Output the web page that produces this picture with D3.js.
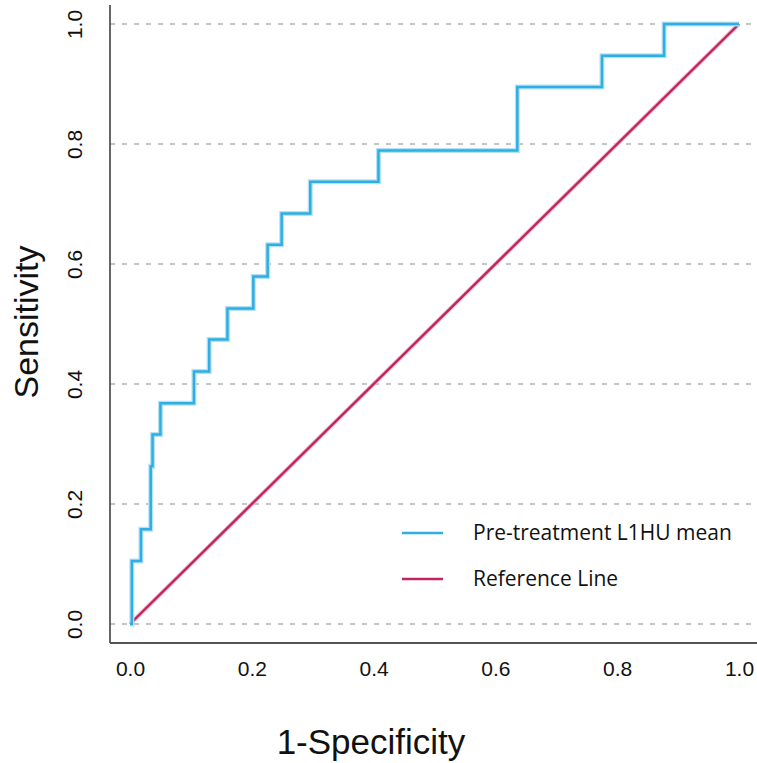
<!DOCTYPE html>
<html>
<head>
<meta charset="utf-8">
<script src="https://cdn.jsdelivr.net/npm/d3@7"></script>
<style>
  body { margin: 0; background: #fff; }
  svg { display: block; }
</style>
</head>
<body>
<div class="chart"></div>
<script>
// ROC curve points (1-specificity, sensitivity)
var fpr = [0, 0.003, 0.018, 0.034, 0.037, 0.050, 0.105, 0.130, 0.160, 0.2025, 0.226, 0.249, 0.296, 0.408, 0.636, 0.775, 0.877, 1.0];
var tpr = [0, 0.105, 0.158, 0.263, 0.316, 0.368, 0.421, 0.474, 0.526, 0.579, 0.632, 0.684, 0.737, 0.789, 0.895, 0.947, 1.0, 1.0];

// diagonal reference line
var refX = [0, 1];
var refY = [0, 1];

var xTicks = [0, 0.2, 0.4, 0.6, 0.8, 1.0];
var yTicks = [0, 0.2, 0.4, 0.6, 0.8, 1.0];

var legendLabels = ['Pre-treatment L1HU mean', 'Reference Line'];

var width = 757, height = 763;
var axisLeftX = 110, axisBottomY = 643;

var svg = d3.select('.chart').append('svg')
  .attr('width', width)
  .attr('height', height);

var x = d3.scaleLinear().domain([0, 1]).range([130, 739]);
var y = d3.scaleLinear().domain([0, 1]).range([624, 24]);

//dashed grid lines
svg.append('g').selectAll('line')
  .data(yTicks)
  .enter().append('line')
  .attr('x1', axisLeftX)
  .attr('x2', width)
  .attr('y1', function(d) { return y(d); })
  .attr('y2', function(d) { return y(d); })
  .attr('stroke', '#b3b3b3')
  .attr('stroke-width', 1.6)
  .attr('stroke-dasharray', '5,7');

//x axis labels
var gx = svg.append('g')
  .attr('transform', 'translate(0,' + axisBottomY + ')')
  .call(d3.axisBottom(x).tickValues(xTicks).tickFormat(d3.format('.1f')).tickSize(0).tickPadding(18));
gx.select('.domain').remove();
gx.selectAll('text')
  .attr('font-family', 'Liberation Sans, Arial, sans-serif')
  .attr('font-size', 21)
  .attr('fill', '#111');

//y axis labels, turned sideways
var gy = svg.append('g')
  .attr('transform', 'translate(' + axisLeftX + ',0)')
  .call(d3.axisLeft(y).tickValues(yTicks).tickFormat(d3.format('.1f')).tickSize(0));
gy.select('.domain').remove();
gy.selectAll('text')
  .attr('x', null)
  .attr('transform', 'translate(-35,0) rotate(-90)')
  .attr('text-anchor', 'middle')
  .attr('dy', '0.35em')
  .attr('font-family', 'Liberation Sans, Arial, sans-serif')
  .attr('font-size', 21)
  .attr('fill', '#111');

//axis lines
svg.append('line')
  .attr('x1', axisLeftX).attr('x2', axisLeftX)
  .attr('y1', 5).attr('y2', axisBottomY)
  .attr('stroke', '#555').attr('stroke-width', 1.8);
svg.append('line')
  .attr('x1', axisLeftX).attr('x2', width)
  .attr('y1', axisBottomY).attr('y2', axisBottomY)
  .attr('stroke', '#555').attr('stroke-width', 1.8);

//reference line
var refLine = d3.line()
  .x(function(d) { return x(d[0]); })
  .y(function(d) { return y(d[1]); });
svg.append('path')
  .datum(d3.zip(refX, refY))
  .attr('d', refLine)
  .attr('fill', 'none')
  .attr('stroke', '#f0b3c8')
  .attr('stroke-width', 4);
svg.append('path')
  .datum(d3.zip(refX, refY))
  .attr('d', refLine)
  .attr('fill', 'none')
  .attr('stroke', '#c2245f')
  .attr('stroke-width', 2.4);

//roc curve, soft halo under the line
var rocLine = d3.line()
  .curve(d3.curveStepAfter)
  .x(function(d) { return x(d[0]); })
  .y(function(d) { return y(d[1]); });
var rocData = d3.zip(fpr, tpr);
svg.append('path')
  .datum(rocData)
  .attr('d', rocLine)
  .attr('fill', 'none')
  .attr('stroke', '#b5e1f5')
  .attr('stroke-width', 5);
svg.append('path')
  .datum(rocData)
  .attr('d', rocLine)
  .attr('fill', 'none')
  .attr('stroke', '#2eaee2')
  .attr('stroke-width', 2.5);

//axis titles
svg.append('text')
  .attr('transform', 'translate(26,322) rotate(-90)')
  .attr('text-anchor', 'middle')
  .attr('dy', '0.35em')
  .attr('font-family', 'Liberation Sans, Arial, sans-serif')
  .attr('font-size', 34)
  .attr('fill', '#111')
  .text('Sensitivity');
svg.append('text')
  .attr('x', 371)
  .attr('y', 742)
  .attr('text-anchor', 'middle')
  .attr('dy', '0.35em')
  .attr('font-family', 'Liberation Sans, Arial, sans-serif')
  .attr('font-size', 35)
  .attr('fill', '#111')
  .text('1-Specificity');

//legend
var legendColors = ['#2eaee2', '#c2245f'];
var legend = svg.append('g').selectAll('g')
  .data(legendLabels)
  .enter().append('g')
  .attr('transform', function(d, i) { return 'translate(402,' + (533 + i * 46) + ')'; });
legend.append('line')
  .attr('x1', 0).attr('x2', 41)
  .attr('stroke', function(d, i) { return legendColors[i]; })
  .attr('stroke-width', 2.5);
legend.append('text')
  .attr('x', 71)
  .attr('dy', '0.35em')
  .attr('font-family', 'Open Sans, sans-serif')
  .attr('font-size', 21)
  .attr('fill', '#111')
  .text(function(d) { return d; });
</script>
</body>
</html>
